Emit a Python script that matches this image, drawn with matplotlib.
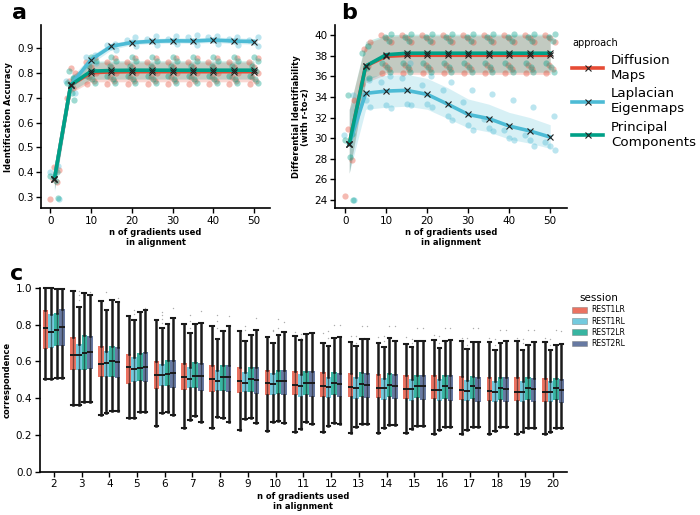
import numpy as np
import matplotlib
matplotlib.use("Agg")
import matplotlib.pyplot as plt
from matplotlib.lines import Line2D
from matplotlib.patches import Patch

plt.rcParams['font.family'] = ['DejaVu Sans']

# ---------------- data ----------------
n_grad = [1, 5, 10, 15, 20, 25, 30, 35, 40, 45, 50]
approaches = ["Diffusion\nMaps", "Laplacian\nEigenmaps", "Principal\nComponents"]

# panel a: identification accuracy (mean line, CI band)
a_dm = [0.372, 0.752, 0.802, 0.805, 0.806, 0.806, 0.806, 0.806, 0.806, 0.806, 0.806]
a_le = [0.372, 0.752, 0.855, 0.909, 0.924, 0.929, 0.931, 0.930, 0.934, 0.930, 0.928]
a_pc = [0.372, 0.752, 0.808, 0.811, 0.812, 0.812, 0.812, 0.812, 0.812, 0.812, 0.812]
a_dm_lo = [0.33, 0.72, 0.765, 0.765, 0.765, 0.765, 0.765, 0.765, 0.765, 0.765, 0.765]
a_dm_hi = [0.41, 0.785, 0.843, 0.845, 0.845, 0.845, 0.845, 0.845, 0.845, 0.845, 0.845]
a_pc_lo = [0.33, 0.725, 0.775, 0.776, 0.776, 0.776, 0.776, 0.776, 0.776, 0.776, 0.776]
a_pc_hi = [0.41, 0.785, 0.848, 0.85, 0.85, 0.85, 0.85, 0.85, 0.85, 0.85, 0.85]
a_le_lo = [0.32, 0.725, 0.838, 0.895, 0.915, 0.92, 0.922, 0.921, 0.924, 0.92, 0.917]
a_le_hi = [0.41, 0.78, 0.872, 0.922, 0.935, 0.94, 0.943, 0.943, 0.946, 0.944, 0.94]

a_dm_pts = [[0.29, 0.36, 0.37, 0.41, 0.42],
            [0.70, 0.74, 0.77, 0.80, 0.82],
            [0.755, 0.77, 0.785, 0.80, 0.825, 0.845, 0.86],
            [0.755, 0.77, 0.785, 0.80, 0.825, 0.845, 0.86],
            [0.755, 0.77, 0.785, 0.80, 0.825, 0.845, 0.86],
            [0.755, 0.77, 0.785, 0.80, 0.825, 0.845, 0.86],
            [0.755, 0.77, 0.785, 0.80, 0.825, 0.845, 0.86],
            [0.755, 0.77, 0.785, 0.80, 0.825, 0.845, 0.86],
            [0.755, 0.77, 0.785, 0.80, 0.825, 0.845, 0.86],
            [0.755, 0.77, 0.785, 0.80, 0.825, 0.845, 0.86],
            [0.755, 0.77, 0.785, 0.80, 0.825, 0.845, 0.862]]
a_pc_pts = [[0.295, 0.365, 0.385, 0.40],
            [0.69, 0.72, 0.76, 0.78, 0.81],
            [0.76, 0.775, 0.79, 0.81, 0.83, 0.85, 0.865],
            [0.76, 0.775, 0.79, 0.81, 0.83, 0.85, 0.865],
            [0.76, 0.775, 0.79, 0.81, 0.83, 0.85, 0.865],
            [0.76, 0.775, 0.79, 0.81, 0.83, 0.85, 0.865],
            [0.76, 0.775, 0.79, 0.81, 0.83, 0.85, 0.865],
            [0.76, 0.775, 0.79, 0.81, 0.83, 0.85, 0.865],
            [0.76, 0.775, 0.79, 0.81, 0.83, 0.85, 0.865],
            [0.76, 0.775, 0.79, 0.81, 0.83, 0.85, 0.865],
            [0.76, 0.775, 0.79, 0.81, 0.83, 0.85, 0.865]]
a_le_pts = [[0.29, 0.38, 0.40, 0.425],
            [0.72, 0.745, 0.77, 0.785],
            [0.84, 0.85, 0.865, 0.875],
            [0.895, 0.905, 0.915, 0.92],
            [0.91, 0.925, 0.935, 0.945],
            [0.915, 0.93, 0.94, 0.95],
            [0.92, 0.93, 0.94, 0.952],
            [0.915, 0.93, 0.945, 0.955],
            [0.92, 0.935, 0.945, 0.95],
            [0.915, 0.93, 0.94, 0.948],
            [0.91, 0.925, 0.935, 0.945]]

# panel b: differential identifiability
b_dm = [29.4, 37.0, 37.95, 38.05, 38.05, 38.05, 38.05, 38.05, 38.05, 38.05, 38.05]
b_le = [29.4, 34.35, 34.57, 34.64, 34.25, 33.3, 32.3, 31.9, 31.17, 30.7, 30.1]
b_pc = [29.4, 37.0, 38.1, 38.25, 38.25, 38.25, 38.25, 38.25, 38.25, 38.25, 38.25]
b_dm_lo = [26.6, 35.4, 36.2, 36.2, 36.2, 36.2, 36.2, 36.2, 36.2, 36.2, 36.2]
b_dm_hi = [32.8, 39.2, 39.9, 39.95, 39.95, 39.95, 39.95, 39.95, 39.95, 39.95, 39.95]
b_pc_lo = [26.6, 35.6, 36.4, 36.4, 36.4, 36.4, 36.4, 36.4, 36.4, 36.4, 36.4]
b_pc_hi = [32.8, 39.4, 40.05, 40.1, 40.1, 40.1, 40.1, 40.1, 40.1, 40.1, 40.1]
b_le_lo = [26.6, 32.8, 33.0, 33.1, 32.8, 31.9, 31.0, 30.6, 29.9, 29.5, 29.0]
b_le_hi = [32.8, 36.0, 36.1, 36.2, 35.8, 34.9, 33.8, 33.3, 32.5, 32.0, 31.3]

b_dm_pts = [[24.4, 27.9, 30.9, 33.7],
            [35.3, 37.0, 38.7, 39.35],
            [36.3, 36.7, 37.1, 39.3, 39.7, 40.0],
            [36.3, 36.7, 37.1, 39.3, 39.7, 40.0],
            [36.3, 36.7, 37.1, 39.3, 39.7, 40.0],
            [36.3, 36.7, 37.1, 39.3, 39.7, 40.0],
            [36.3, 36.7, 37.1, 39.3, 39.7, 40.0],
            [36.3, 36.7, 37.1, 39.3, 39.7, 40.0],
            [36.3, 36.7, 37.1, 39.3, 39.7, 40.0],
            [36.3, 36.7, 37.1, 39.3, 39.7, 40.0],
            [36.3, 36.7, 37.1, 39.3, 39.7, 40.0]]
b_pc_pts = [[24.0, 28.2, 29.8, 30.4, 34.2],
            [35.8, 36.8, 38.3, 39.0],
            [36.4, 36.9, 37.3, 39.4, 39.8, 40.1],
            [36.4, 36.9, 37.3, 39.4, 39.8, 40.1],
            [36.4, 36.9, 37.3, 39.4, 39.8, 40.1],
            [36.4, 36.9, 37.3, 39.4, 39.8, 40.1],
            [36.4, 36.9, 37.3, 39.4, 39.8, 40.1],
            [36.4, 36.9, 37.3, 39.4, 39.8, 40.1],
            [36.4, 36.9, 37.3, 39.4, 39.8, 40.1],
            [36.4, 36.9, 37.3, 39.4, 39.8, 40.1],
            [36.4, 36.9, 37.3, 39.4, 39.8, 40.1]]
b_le_pts = [[24.0, 29.5, 30.3, 34.2],
            [33.0, 33.7, 34.2, 35.6],
            [32.9, 33.2, 35.5, 36.0],
            [33.2, 33.3, 35.8, 37.3],
            [33.0, 33.3, 35.2, 36.0],
            [31.8, 32.1, 34.7, 35.5],
            [30.8, 31.3, 33.5, 34.7],
            [30.7, 31.0, 31.9, 34.3],
            [29.8, 30.0, 30.8, 33.7],
            [29.2, 29.8, 30.3, 33.0],
            [28.8, 29.2, 29.6, 32.1]]

# panel c: correspondence boxplots
c_n = list(range(2, 21))
sessions = ["REST1LR", "REST1RL", "REST2LR", "REST2RL"]
c_q3 = [
    [0.878, 0.731, 0.685, 0.64, 0.605, 0.591, 0.578, 0.567, 0.555, 0.549, 0.54, 0.535, 0.531, 0.527, 0.524, 0.52, 0.516, 0.513, 0.509],
    [0.858, 0.695, 0.658, 0.624, 0.585, 0.569, 0.555, 0.545, 0.536, 0.531, 0.518, 0.513, 0.509, 0.505, 0.504, 0.5, 0.496, 0.495, 0.491],
    [0.864, 0.742, 0.685, 0.645, 0.609, 0.595, 0.582, 0.567, 0.555, 0.549, 0.545, 0.54, 0.535, 0.527, 0.524, 0.52, 0.516, 0.513, 0.509],
    [0.887, 0.736, 0.678, 0.649, 0.609, 0.589, 0.582, 0.571, 0.555, 0.549, 0.536, 0.536, 0.531, 0.527, 0.524, 0.516, 0.513, 0.509, 0.505]]
c_med = [
    [0.782, 0.636, 0.587, 0.567, 0.527, 0.518, 0.504, 0.491, 0.48, 0.473, 0.469, 0.46, 0.455, 0.449, 0.445, 0.444, 0.44, 0.436, 0.435],
    [0.758, 0.633, 0.591, 0.558, 0.524, 0.505, 0.491, 0.48, 0.476, 0.465, 0.462, 0.458, 0.453, 0.449, 0.444, 0.44, 0.436, 0.436, 0.435],
    [0.769, 0.645, 0.6, 0.564, 0.531, 0.52, 0.513, 0.502, 0.493, 0.485, 0.482, 0.478, 0.473, 0.469, 0.465, 0.464, 0.458, 0.455, 0.455],
    [0.789, 0.651, 0.596, 0.571, 0.538, 0.52, 0.513, 0.498, 0.491, 0.485, 0.476, 0.473, 0.467, 0.464, 0.458, 0.455, 0.451, 0.449, 0.445]]
c_q1 = [
    [0.669, 0.553, 0.515, 0.478, 0.449, 0.442, 0.433, 0.427, 0.418, 0.415, 0.409, 0.404, 0.4, 0.396, 0.395, 0.391, 0.387, 0.385, 0.382],
    [0.673, 0.555, 0.518, 0.487, 0.464, 0.455, 0.44, 0.433, 0.418, 0.409, 0.4, 0.396, 0.391, 0.387, 0.387, 0.385, 0.382, 0.382, 0.378],
    [0.682, 0.555, 0.518, 0.491, 0.464, 0.455, 0.44, 0.433, 0.422, 0.418, 0.415, 0.409, 0.404, 0.4, 0.396, 0.396, 0.391, 0.391, 0.391],
    [0.682, 0.56, 0.509, 0.487, 0.455, 0.44, 0.433, 0.425, 0.415, 0.409, 0.404, 0.4, 0.393, 0.389, 0.387, 0.382, 0.382, 0.378, 0.375]]
c_hi = [
    [1.0, 0.982, 0.927, 0.845, 0.827, 0.805, 0.791, 0.764, 0.733, 0.74, 0.7, 0.705, 0.7, 0.696, 0.715, 0.709, 0.705, 0.709, 0.705],
    [1.0, 0.895, 0.878, 0.824, 0.782, 0.755, 0.724, 0.713, 0.7, 0.718, 0.685, 0.685, 0.676, 0.678, 0.673, 0.669, 0.664, 0.66, 0.66],
    [0.995, 0.973, 0.933, 0.869, 0.804, 0.805, 0.767, 0.745, 0.745, 0.749, 0.727, 0.722, 0.727, 0.713, 0.709, 0.704, 0.698, 0.691, 0.691],
    [0.995, 0.96, 0.922, 0.882, 0.836, 0.809, 0.791, 0.769, 0.758, 0.755, 0.731, 0.722, 0.713, 0.713, 0.715, 0.705, 0.709, 0.704, 0.694]]
c_lo = [
    [0.504, 0.364, 0.309, 0.295, 0.251, 0.24, 0.24, 0.227, 0.222, 0.218, 0.218, 0.213, 0.209, 0.209, 0.205, 0.205, 0.204, 0.204, 0.204],
    [0.504, 0.364, 0.322, 0.291, 0.318, 0.282, 0.3, 0.287, 0.273, 0.231, 0.249, 0.245, 0.24, 0.233, 0.227, 0.227, 0.222, 0.218, 0.218],
    [0.509, 0.382, 0.331, 0.327, 0.327, 0.304, 0.295, 0.291, 0.276, 0.269, 0.264, 0.26, 0.255, 0.249, 0.245, 0.245, 0.242, 0.24, 0.24],
    [0.509, 0.378, 0.331, 0.327, 0.309, 0.273, 0.269, 0.264, 0.264, 0.258, 0.258, 0.258, 0.255, 0.249, 0.245, 0.245, 0.242, 0.24, 0.24]]
c_fliers = [
    [[], [], [], [], [], [], [], [], [], [0.76], [0.755], [0.736], [0.735], [0.735], [0.745], [0.73], [0.725], [0.725], [0.73]],
    [[], [0.985, 0.964, 0.936], [0.98], [0.88, 0.86], [0.87, 0.85, 0.83, 0.81], [0.85, 0.82, 0.78], [0.855, 0.82, 0.78],
     [0.79, 0.77], [0.77, 0.765], [0.75, 0.73], [0.764, 0.73], [0.736, 0.70], [0.74, 0.71], [0.72, 0.70], [0.74, 0.70],
     [0.73, 0.69], [0.72, 0.69], [0.72, 0.70], [0.72, 0.69]],
    [[], [], [], [], [], [], [], [], [0.83, 0.78], [], [0.8], [0.79], [0.79], [0.78], [0.78], [0.78], [0.77], [0.77], [0.77]],
    [[], [0.98], [0.945], [0.89], [0.89], [0.876], [0.845], [0.836], [0.815], [], [0.8], [0.79], [0.79], [0.78], [0.78], [0.78], [0.77], [0.77], [0.765]]]

# ---------------- style ----------------
RED, BLUE, GREEN, NAVY = '#E64B35', '#4DBBD5', '#00A087', '#3C5488'
app_colors = [RED, BLUE, GREEN]
sess_colors = [RED, BLUE, GREEN, NAVY]
jit = [-1.0, 0.6, -0.4, 1.1, 0.0, -1.2, 0.9, 0.3]

fig = plt.figure(figsize=(7.0, 5.15), dpi=100)
ax_a = fig.add_axes([0.0586, 0.596, 0.3274, 0.355])
ax_b = fig.add_axes([0.479, 0.596, 0.331, 0.355])
ax_c = fig.add_axes([0.057, 0.084, 0.753, 0.357])


def style_ax(ax):
    for s in ['top', 'right']:
        ax.spines[s].set_visible(False)
    for s in ['left', 'bottom']:
        ax.spines[s].set_linewidth(1.2)
    ax.tick_params(axis='both', labelsize=7.5, length=3.5, width=1.0, pad=2)


def line_panel(ax, means, los, his, pts):
    xs = np.array(n_grad, dtype=float)
    for k in range(3):
        for i, vals in enumerate(pts[k]):
            xo = [xs[i] + jit[(j + 3 * k) % len(jit)] for j in range(len(vals))]
            ax.scatter(xo, vals, s=20, color=app_colors[k], alpha=0.38, linewidths=0, zorder=2)
    for k in range(3):
        ax.fill_between(xs, los[k], his[k], color=app_colors[k], alpha=0.22, linewidth=0, zorder=1)
    for k in range(3):
        ax.plot(xs, means[k], color=app_colors[k], lw=2.6, zorder=3 + k)
        ax.plot(xs, means[k], ls='none', marker='x', color='#222222', ms=4.5, mew=0.8, zorder=6)


line_panel(ax_a, [a_dm, a_le, a_pc], [a_dm_lo, a_le_lo, a_pc_lo], [a_dm_hi, a_le_hi, a_pc_hi],
           [a_dm_pts, a_le_pts, a_pc_pts])
ax_a.set_xlim(-2.3, 54.0)
ax_a.set_ylim(0.254, 0.994)
ax_a.set_yticks([0.3, 0.4, 0.5, 0.6, 0.7, 0.8, 0.9])
ax_a.set_xticks([0, 10, 20, 30, 40, 50])
ax_a.set_ylabel("Identification Accuracy", fontsize=6, fontweight='bold', labelpad=3)
ax_a.set_xlabel("n of gradients used\nin alignment", fontsize=6, fontweight='bold', labelpad=2, linespacing=1.1)
style_ax(ax_a)

line_panel(ax_b, [b_dm, b_le, b_pc], [b_dm_lo, b_le_lo, b_pc_lo], [b_dm_hi, b_le_hi, b_pc_hi],
           [b_dm_pts, b_le_pts, b_pc_pts])
ax_b.set_xlim(-2.4, 54.1)
ax_b.set_ylim(23.2, 40.97)
ax_b.set_yticks(list(range(24, 41, 2)))
ax_b.set_xticks([0, 10, 20, 30, 40, 50])
ax_b.set_ylabel("Differential Identifiability\n(with r-to-z)", fontsize=6, fontweight='bold', labelpad=3, linespacing=1.1)
ax_b.set_xlabel("n of gradients used\nin alignment", fontsize=6, fontweight='bold', labelpad=2, linespacing=1.1)
style_ax(ax_b)

# approach legend
handles = [Line2D([0], [0], color=c, lw=2.6, marker='x', mec='#222222', mew=0.8, ms=4.5) for c in app_colors]
leg = fig.legend(handles, approaches, title="approach", loc='upper left', bbox_to_anchor=(0.81, 0.936),
                 frameon=False, fontsize=9.6, title_fontsize=7, handlelength=2.3, labelspacing=0.42,
                 handletextpad=0.6, borderaxespad=0)
leg._legend_box.align = 'left'

# panel c
offs = [-0.3, -0.1, 0.1, 0.3]
for s in range(4):
    stats = []
    for i in range(len(c_n)):
        stats.append(dict(med=c_med[s][i], q1=c_q1[s][i], q3=c_q3[s][i],
                          whislo=c_lo[s][i], whishi=c_hi[s][i], fliers=c_fliers[s][i]))
    pos = [i + offs[s] for i in range(len(c_n))]
    bp = ax_c.bxp(stats, positions=pos, widths=0.2, patch_artist=True, showfliers=True,
                  boxprops=dict(facecolor=sess_colors[s], alpha=0.78, linewidth=0),
                  medianprops=dict(color='#1a1a1a', lw=1.4),
                  whiskerprops=dict(color='#1a1a1a', lw=1.8),
                  capprops=dict(color='#1a1a1a', lw=1.5),
                  flierprops=dict(marker='o', ms=1.0, mfc='#999999', mec='none', alpha=0.8),
                  capwidths=0.13, manage_ticks=False)
    for art in bp['caps'] + bp['whiskers']:
        art.set_clip_on(False)
    ax_c.vlines(pos, c_q1[s], c_q3[s], color='#1a1a1a', lw=1.0, alpha=0.55, zorder=3)

ax_c.set_xlim(-0.5, len(c_n) - 0.5)
ax_c.set_ylim(0, 1.0)
ax_c.set_xticks(range(len(c_n)))
ax_c.set_xticklabels([str(v) for v in c_n])
ax_c.set_yticks([0.0, 0.2, 0.4, 0.6, 0.8, 1.0])
ax_c.set_ylabel("correspondence", fontsize=6, fontweight='bold', labelpad=3)
ax_c.set_xlabel("n of gradients used\nin alignment", fontsize=6, fontweight='bold', labelpad=2, linespacing=1.1)
style_ax(ax_c)

sh = [Patch(facecolor=c, alpha=0.78, edgecolor='#777777', linewidth=0.4) for c in sess_colors]
leg2 = fig.legend(sh, sessions, title="session", loc='upper left', bbox_to_anchor=(0.813, 0.437),
                  frameon=False, fontsize=5.5, title_fontsize=7.5, handlelength=2.0, handleheight=0.8,
                  labelspacing=0.3, handletextpad=0.5, borderaxespad=0)

# panel letters
fig.text(0.017, 0.995, "a", fontsize=16, fontweight='bold', va='top', ha='left')
fig.text(0.487, 0.995, "b", fontsize=16, fontweight='bold', va='top', ha='left')
fig.text(0.014, 0.488, "c", fontsize=16, fontweight='bold', va='top', ha='left')

fig.savefig("out.png", dpi=100)
